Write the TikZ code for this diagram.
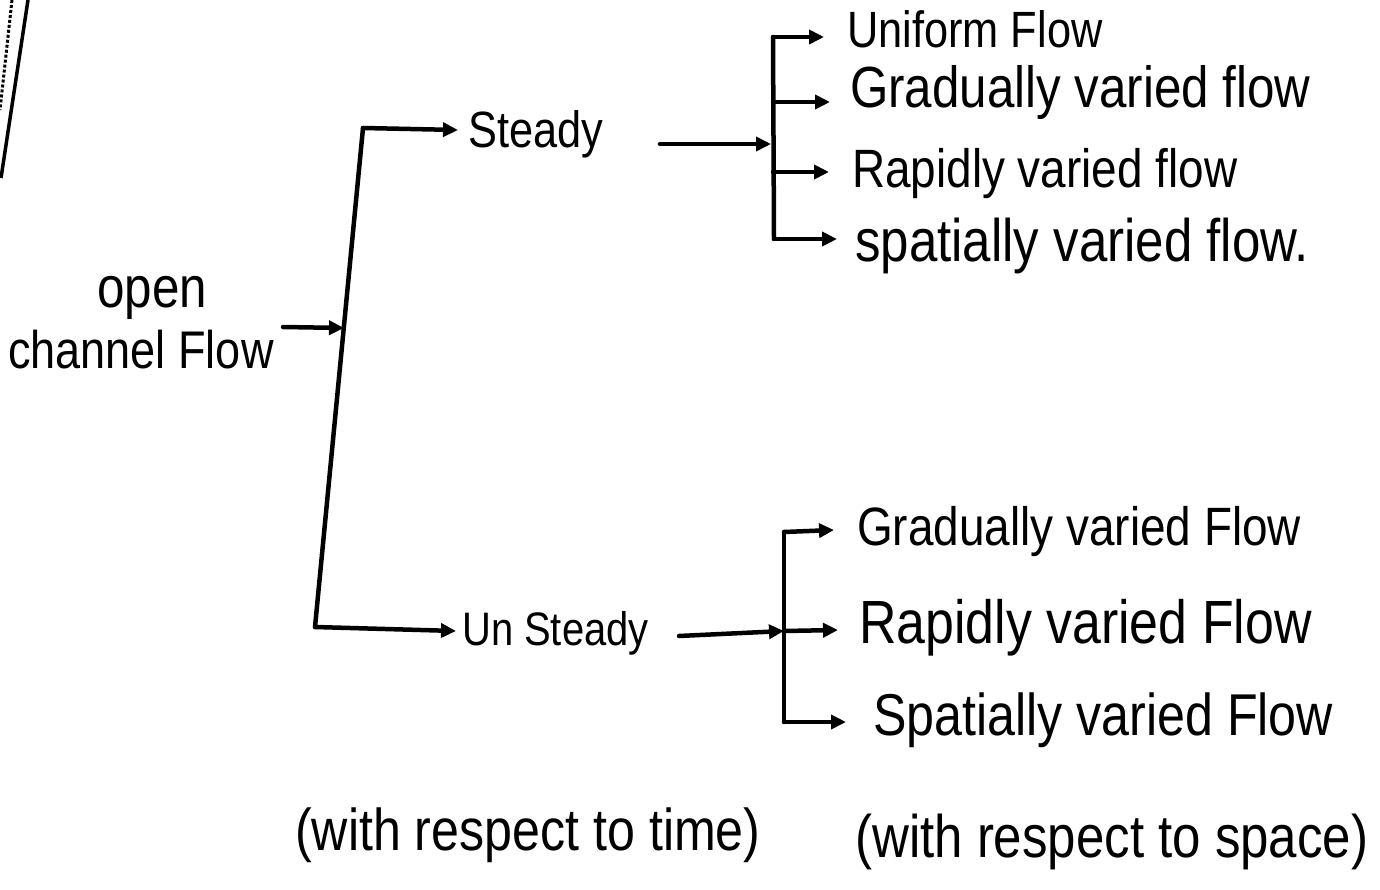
\documentclass[tikz,border=0pt]{standalone}
\usepackage{fontspec}
\setmainfont[FakeStretch=0.85]{Liberation Sans}
\usetikzlibrary{arrows.meta}
\tikzset{
  fs/.style={font=\fontsize{#1}{#1}\selectfont},
  lbl/.style={anchor=base west, inner sep=0pt},
  ln/.style={line width=4.5pt, line cap=round, line join=round},
  arr/.style={ln, -{Triangle[length=15pt,width=14pt]}},
}
\begin{document}
\begin{tikzpicture}[x=1pt,y=-1pt]
\useasboundingbox (0,0) rectangle (1380,890);
% page edge
\draw[line width=3.5pt] (28,0) -- (1,178);
\draw[line width=3pt, dash pattern=on 3pt off 2pt] (12,0) -- (0,110);

% root
\node[lbl, fs=58] (open) at (97,308) {open};
\node[lbl, fs=53] (ocf) at (8,368) {channel Flow};

% main bracket
\coordinate (mt) at (363,128);
\coordinate (mb) at (315,627);
\coordinate (mm) at (344,328);
\coordinate (rootend) at (283,327);
\draw[ln] (mt) -- (mb);
\draw[arr] (rootend) -- (mm);

% steady / unsteady
\node[lbl, fs=51] (steady) at (468,148) {Steady};
\node[lbl, fs=47] (unsteady) at (462,645) {Un Steady};
\draw[arr] (mt) -- (458,130);
\draw[arr] (mb) -- (456,631);

% upper bracket
\coordinate (ut) at (773,37);
\coordinate (ub) at (774,239);
\coordinate (um) at (771,144);
\coordinate (sfrom) at (660,144);
\draw[ln] (ut) -- (ub);
\draw[arr] (sfrom) -- (um);
\node[lbl, fs=51] (u1) at (847,48) {Uniform Flow};
\node[lbl, fs=58] (u2) at (850,108) {Gradually varied flow};
\node[lbl, fs=54] (u3) at (852,188) {Rapidly varied flow};
\node[lbl, fs=60] (u4) at (855,262) {spatially varied flow.};
\draw[arr] (ut) -- (824,37);
\draw[arr] (773,102) -- (830,102);
\draw[arr] (773,172) -- (829,172);
\draw[arr] (ub) -- (837,239);

% lower bracket
\coordinate (lt) at (784,532);
\coordinate (lb) at (784,722);
\coordinate (lm) at (784,631);
\coordinate (ufrom) at (679,636);
\draw[ln] (lt) -- (lb);
\draw[arr] (ufrom) -- (lm);
\node[lbl, fs=54] (l1) at (857,545) {Gradually varied Flow};
\node[lbl, fs=61] (l2) at (859,643) {Rapidly varied Flow};
\node[lbl, fs=59] (l3) at (873,735) {Spatially varied Flow};
\draw[arr] (lt) -- (834,530);
\draw[arr] (lm) -- (838,630);
\draw[arr] (lb) -- (846,722);

% footnotes
\node[lbl, fs=59] (t1) at (295,850) {(with respect to time)};
\node[lbl, fs=60] (t2) at (855,857) {(with respect to space)};
\end{tikzpicture}
\end{document}
